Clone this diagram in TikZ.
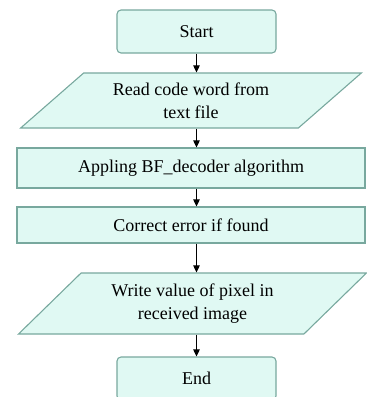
\documentclass[tikz,border=0pt]{standalone}
\usepackage{fontspec}
\setmainfont{Liberation Serif}
\usetikzlibrary{arrows.meta,shapes.geometric}
\definecolor{boxfill}{RGB}{224,249,243}
\definecolor{boxline}{RGB}{120,168,158}
\begin{document}
\begin{tikzpicture}[x=1pt,y=-1pt,
  box/.style={draw=boxline, fill=boxfill, line width=1.1pt, inner sep=0pt,
    font=\fontsize{18}{23}\selectfont, align=center},
  term/.style={box, rounded corners=4pt, minimum width=159pt, minimum height=43pt},
  proc/.style={box, minimum width=348pt},
  iobox/.style={box, trapezium, trapezium stretches=true,
    trapezium left angle=#1, trapezium right angle=180-#1},
  flow/.style={draw=black, line width=0.9pt, -{Triangle[length=7pt,width=6.5pt]}}
]
\clip (0,0) rectangle (367,397);
\node[term] (start) at (196.5,31.5) {Start};
\node[iobox=38, minimum width=342pt, minimum height=55pt] (read) at (191,100.5) {Read code word from\\text file};
\node[proc, minimum height=40pt] (algo) at (191,168) {Appling BF\_decoder algorithm};
\node[proc, minimum height=36pt] (corr) at (191,225) {Correct error if found};
\node[iobox=41, minimum width=349pt, minimum height=61pt] (write) at (192.5,303.5) {Write value of pixel in\\received image};
\node[term] (end) at (196.5,378.5) {End};
\draw[flow] (start.south) -- (start.south |- read.north);
\draw[flow] (start.south |- read.south) -- (start.south |- algo.north);
\draw[flow] (start.south |- algo.south) -- (start.south |- corr.north);
\draw[flow] (start.south |- corr.south) -- (start.south |- write.north);
\draw[flow] (start.south |- write.south) -- (end.north);
\end{tikzpicture}
\end{document}
